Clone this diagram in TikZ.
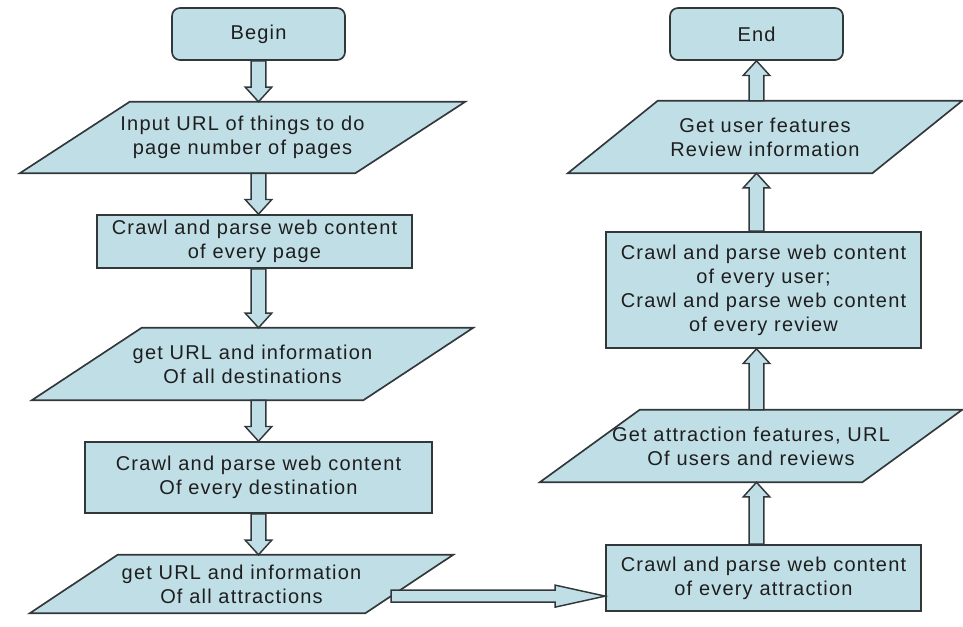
\documentclass[tikz,border=0pt]{standalone}
\usepackage{fontspec}
\setmainfont{Liberation Sans}[LetterSpace=6]
\usetikzlibrary{calc}
\pgfdeclarelayer{background}
\pgfsetlayers{background,main}
\definecolor{boxfill}{RGB}{192,222,230}
\definecolor{boxline}{RGB}{50,55,58}
\definecolor{txt}{RGB}{30,30,30}
% block arrow dimensions (vertical / horizontal)
\def\vsw{5.5pt}\def\vhw{10pt}\def\vhl{11pt}
\def\hsw{4.5pt}\def\hhw{8.25pt}\def\hhl{37.5pt}
\newcommand\varrow[2]{%
  \draw[barrow] let \p1=(#1), \p2=(#2), \n1={ifthenelse(\y2>\y1,1,-1)} in
    ({\x1-\vsw},\y1) -- ({\x1-\vsw},{\y2-\n1*\vhl}) -- ({\x1-\vhw},{\y2-\n1*\vhl})
    -- (\x1,\y2) -- ({\x1+\vhw},{\y2-\n1*\vhl}) -- ({\x1+\vsw},{\y2-\n1*\vhl})
    -- ({\x1+\vsw},\y1) -- cycle;}
\newcommand\harrow[2]{%
  \draw[barrow] let \p1=(#1), \p2=(#2) in
    (\x1,{\y1+\hsw}) -- ({\x2-\hhl},{\y1+\hsw}) -- ({\x2-\hhl},{\y1+\hhw})
    -- (\x2,\y1) -- ({\x2-\hhl},{\y1-\hhw}) -- ({\x2-\hhl},{\y1-\hsw})
    -- (\x1,{\y1-\hsw}) -- cycle;}
\newcommand\iopara[2]{%
  \begin{pgfonlayer}{background}
  \draw[iofill] ([xshift={#2*0.75pt}]#1.north west) -- (#1.north east)
    -- ([xshift={-#2*0.75pt}]#1.south east) -- (#1.south west) -- cycle;
  \end{pgfonlayer}}
\begin{document}
\begin{tikzpicture}[x=0.75pt,y=-0.75pt,
  every node/.style={font=\fontsize{15}{18}\selectfont, align=center, inner sep=0pt, text=txt},
  boxsize/.style 2 args={minimum width={#1*0.75pt}, minimum height={#2*0.75pt}},
  boxnode/.style={draw=boxline, fill=boxfill, line width=1.25pt},
  termnode/.style={boxnode, rounded corners=6pt},
  iobox/.style={},
  iofill/.style={draw=boxline, fill=boxfill, line width=1.25pt, line join=miter},
  barrow/.style={draw=boxline, fill=boxfill, line width=1.1pt, line join=miter}
]
\useasboundingbox (0,0) rectangle (963,626);

% left column
\node[termnode, boxsize={173}{52}] (begin) at (258.5,34) {Begin};
\node[iobox, boxsize={445}{71}] (p1) at (242.5,137.5) {Input URL of things to do\\page number of pages};
\iopara{p1}{110}
\node[boxnode, boxsize={315}{53}] (r2) at (254.5,241.5) {Crawl and parse web content\\of every page};
\node[iobox, boxsize={441}{72}] (p2) at (252.5,364) {get URL and information\\Of all destinations};
\iopara{p2}{110}
\node[boxnode, boxsize={347}{71}] (r3) at (258.5,477.5) {Crawl and parse web content\\Of every destination};
\node[iobox, boxsize={423}{58}] (p3) at (241.5,584) {get URL and information\\Of all attractions};
\iopara{p3}{88}

% right column
\node[termnode, boxsize={173}{52}] (end) at (756.5,34) {End};
\node[iobox, boxsize={394}{72}] (q1) at (765,137) {Get user features\\Review information};
\iopara{q1}{90}
\node[boxnode, boxsize={315}{116}] (r5) at (763.5,290) {Crawl and parse web content\\of every user;\\Crawl and parse web content\\of every review};
\node[iobox, boxsize={422}{72}] (q2) at (751,446) {Get attraction features, URL\\Of users and reviews};
\iopara{q2}{100}
\node[boxnode, boxsize={315}{66}] (r6) at (763.5,578) {Crawl and parse web content\\of every attraction};

% connectors
\varrow{begin.south}{p1.north -| begin}
\varrow{p1.south -| begin}{r2.north -| begin}
\varrow{r2.south -| begin}{p2.north -| begin}
\varrow{p2.south -| begin}{r3.north -| begin}
\varrow{r3.south -| begin}{p3.north -| begin}

\coordinate (p3br) at ([xshift={-88*0.75pt}]p3.south east);
\coordinate (hstart) at ($(p3.north east)!0.707!(p3br)$);
\harrow{hstart}{r6.west |- hstart}

\varrow{r6.north -| end}{q2.south -| end}
\varrow{q2.north -| end}{r5.south -| end}
\varrow{r5.north -| end}{q1.south -| end}
\varrow{q1.north -| end}{end.south}
\end{tikzpicture}
\end{document}
